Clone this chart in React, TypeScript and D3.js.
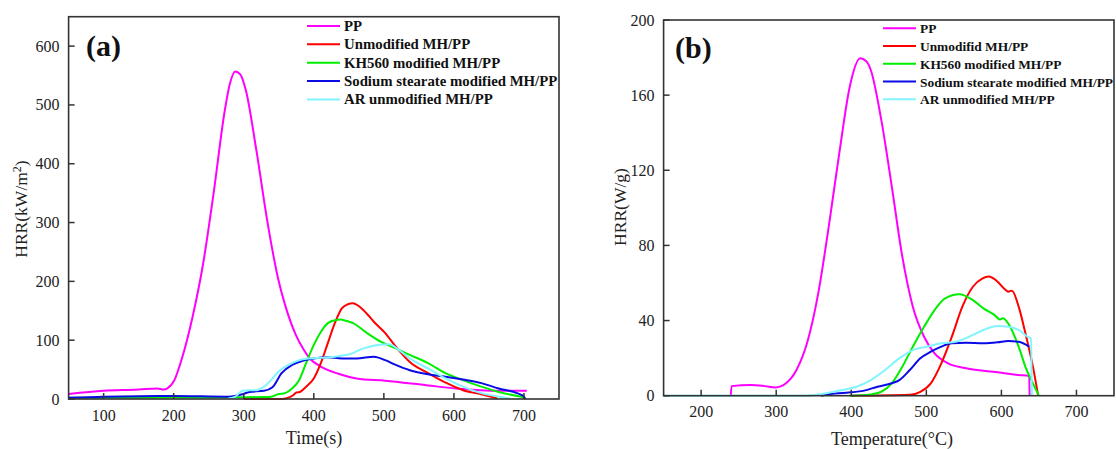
import React from "react";
import * as d3 from "d3";

// ---------- Panel (a): HRR vs time ----------
const xTicksA = [100, 200, 300, 400, 500, 600, 700];
const yTicksA = [0, 100, 200, 300, 400, 500, 600];

const ppA_x = [50, 100, 150, 176, 186, 191, 201, 211, 227, 242, 257, 273, 280, 288, 295, 303, 318, 334, 349, 359, 374, 385, 395, 410, 435, 461, 502, 563, 603, 664, 704];
const ppA_y = [8.5, 14, 16, 18, 16, 18, 32, 66, 140, 230, 350, 491, 535, 557, 552, 525, 423, 300, 205, 160, 110, 85, 68, 55, 43, 35, 31, 23, 18, 14, 14];

const redA_x = [300, 350, 360, 370, 375, 380, 389, 400, 410, 420, 430, 440, 448, 456, 463, 471, 486, 502, 517, 537, 563, 588, 613, 639, 662];
const redA_y = [0, 0, 1, 6, 11, 12, 21, 35, 61, 95, 129, 154, 161, 163, 159, 151, 131, 112, 89, 63, 44, 28, 15, 8, 1];

const greenA_x = [50, 100, 200, 300, 330, 339, 349, 359, 369, 379, 389, 400, 410, 420, 430, 438, 446, 456, 476, 496, 517, 537, 563, 588, 613, 639, 664, 700];
const greenA_y = [2, 2, 2.5, 3, 3.5, 4, 8, 10, 18, 32, 61, 92, 114, 129, 134, 135, 133, 129, 112, 97, 86, 75, 61, 44, 32, 21, 12, 3];

const blueA_x = [50, 100, 200, 278, 298, 308, 329, 341, 354, 369, 384, 400, 420, 440, 461, 486, 502, 517, 537, 563, 588, 613, 639, 664, 690, 700, 702];
const blueA_y = [2, 4, 5, 4, 8, 12, 14, 20, 44, 58, 65, 69, 71, 69, 69, 72, 66, 58, 49, 42, 38, 33, 27, 18, 10, 4, 0];

const cyanA_x = [278, 288, 298, 308, 318, 329, 339, 349, 364, 379, 395, 410, 430, 451, 471, 491, 507, 522, 537, 563, 588, 613, 639, 664, 680];
const cyanA_y = [1, 4, 14, 15, 15, 21, 32, 46, 58, 66, 69, 70, 72, 76, 86, 92, 93, 83, 69, 52, 35, 21, 10, 4, 1];

const legendA = ["PP", "Unmodified MH/PP", "KH560 modified MH/PP", "Sodium stearate modified MH/PP", "AR unmodified MH/PP"];

// ---------- Panel (b): HRR vs temperature ----------
const xTicksB = [200, 300, 400, 500, 600, 700];
const yTicksB = [0, 40, 80, 120, 160, 200];

const ppB_x = [239.5, 240.5, 266, 285, 299, 313, 327, 341, 356, 370, 384, 398, 412, 420, 426, 440, 454, 468, 482, 497, 511, 529, 553, 576, 600, 623, 637, 637.6];
const ppB_y = [0, 5.1, 5.7, 5.1, 4.4, 6.6, 13.7, 27.9, 54.5, 90, 129, 164.5, 179.6, 178, 173.4, 146.8, 111.3, 74, 47.4, 31.4, 22.5, 17.2, 14.6, 13.3, 12.2, 11, 10.5, 0];

const redB_x = [400, 478, 492, 506, 520, 534, 548, 562, 575, 583, 595, 605, 609, 614, 623, 632, 642, 649];
const redB_y = [0, 0.5, 2.1, 6.6, 17.2, 31.4, 47.4, 58, 62.5, 63.4, 60.7, 56.5, 55.4, 55.9, 47.4, 33.2, 15.4, 0];

const greenB_x = [398, 426, 440, 454, 468, 482, 497, 511, 525, 544, 562, 576, 591, 598, 602, 609, 623, 632, 642, 650];
const greenB_y = [0, 0.7, 2.1, 6.6, 15.4, 26.1, 36.7, 45.6, 51.8, 54, 50.9, 46.5, 42.9, 40.6, 41.2, 38.5, 26.1, 15.4, 6.6, 0];

const blueB_x = [360, 365, 393, 417, 435, 454, 464, 478, 492, 506, 520, 534, 553, 576, 595, 609, 623, 637];
const blueB_y = [0, 0.4, 1.6, 2.7, 4.8, 6.6, 8.3, 13.7, 19.9, 23.4, 26.1, 27.9, 28.2, 27.9, 28.4, 29.1, 28.7, 26.1];

const cyanB_x = [150, 340, 365, 388, 407, 426, 445, 464, 482, 501, 520, 539, 557, 576, 595, 609, 623, 637, 639.5, 640.5];
const cyanB_y = [0, 0, 1.2, 3, 4.8, 8.3, 13.7, 19.9, 24.3, 26.1, 27.9, 28.7, 31.4, 35, 37.1, 36.7, 35, 30.9, 30.5, 0];

const legendB = ["PP", "Unmodifid MH/PP", "KH560 modified MH/PP", "Sodium stearate modified MH/PP", "AR unmodified MH/PP"];

const colors = ["#ff00ff", "#ff0000", "#00ee00", "#0a0ae6", "#80f4ff"];

const FONT = "'Liberation Serif', 'Times New Roman', serif";

type Series = { x: number[]; y: number[] };

function zip(s: Series) {
  return s.x.map((v, i) => [v, s.y[i]] as [number, number]);
}

type PanelProps = {
  left: number; right: number; top: number; bottom: number;
  xDomain: [number, number]; yDomain: [number, number];
  xTicks: number[]; yTicks: number[];
  series: Series[]; legend: string[];
  legendX: number; legendY: number; legendGap: number; legendFont: number;
  tag: string; tagX: number; tagY: number;
  yLabel: React.ReactNode; yLabelX: number; yLabelY: number;
  xLabel: string; xLabelX: number; xLabelY: number;
  xTickLabelY: number;
};

function Panel(p: PanelProps) {
  const x = d3.scaleLinear().domain(p.xDomain).range([p.left, p.right]);
  const y = d3.scaleLinear().domain(p.yDomain).range([p.bottom, p.top]);
  const line = d3.line<[number, number]>().x(d => x(d[0])).y(d => y(d[1])).curve(d3.curveMonotoneX);
  const tickLen = 6;
  const axisColor = "#333";
  return (
    <g>
      {p.series.map((s, i) => (
        <path key={i} d={line(zip(s)) || ""} fill="none" stroke={colors[i]} strokeWidth={2} strokeLinejoin="round" />
      ))}
      <rect x={p.left} y={p.top} width={p.right - p.left} height={p.bottom - p.top} fill="none" stroke={axisColor} strokeWidth={1.6} />
      {p.xTicks.map(t => (
        <g key={"xt" + t}>
          <line x1={x(t)} x2={x(t)} y1={p.bottom} y2={p.bottom - tickLen} stroke={axisColor} strokeWidth={1.5} />
          <text x={x(t)} y={p.xTickLabelY} textAnchor="middle" fontSize={16} fontFamily={FONT} fill="#222">{t}</text>
        </g>
      ))}
      {p.yTicks.map(t => (
        <g key={"yt" + t}>
          <line x1={p.left} x2={p.left + tickLen} y1={y(t)} y2={y(t)} stroke={axisColor} strokeWidth={1.5} />
          <text x={p.left - 9} y={y(t) + 5.5} textAnchor="end" fontSize={16} fontFamily={FONT} fill="#222">{t}</text>
        </g>
      ))}
      {p.legend.map((name, i) => (
        <g key={"lg" + i}>
          <line x1={p.legendX} x2={p.legendX + 33} y1={p.legendY + i * p.legendGap} y2={p.legendY + i * p.legendGap} stroke={colors[i]} strokeWidth={2} />
          <text x={p.legendX + 37} y={p.legendY + i * p.legendGap + 5} fontSize={p.legendFont} fontWeight="bold" fontFamily={FONT} fill="#111">{name}</text>
        </g>
      ))}
      <text x={p.tagX} y={p.tagY} fontSize={30} fontWeight="bold" fontFamily={FONT} fill="#111">{p.tag}</text>
      <text transform={`translate(${p.yLabelX},${p.yLabelY}) rotate(-90)`} textAnchor="middle" fontSize={17.5} fontFamily={FONT} fill="#222">{p.yLabel}</text>
      <text x={p.xLabelX} y={p.xLabelY} textAnchor="middle" fontSize={18} fontFamily={FONT} fill="#222">{p.xLabel}</text>
    </g>
  );
}

export default function App() {
  const seriesA: Series[] = [
    { x: ppA_x, y: ppA_y },
    { x: redA_x, y: redA_y },
    { x: greenA_x, y: greenA_y },
    { x: blueA_x, y: blueA_y },
    { x: cyanA_x, y: cyanA_y },
  ];
  const seriesB: Series[] = [
    { x: ppB_x, y: ppB_y },
    { x: redB_x, y: redB_y },
    { x: greenB_x, y: greenB_y },
    { x: blueB_x, y: blueB_y },
    { x: cyanB_x, y: cyanB_y },
  ];
  return (
    <svg width={1116} height={449} style={{ position: "absolute", left: 0, top: 0, background: "#fff" }}>
      <rect x={0} y={0} width={1116} height={449} fill="#fff" />
      <Panel
        left={68.6} right={559} top={16.7} bottom={399}
        xDomain={[50, 750]} yDomain={[0, 650]}
        xTicks={xTicksA} yTicks={yTicksA}
        series={seriesA} legend={legendA}
        legendX={307} legendY={26} legendGap={18.35} legendFont={14.8}
        tag="(a)" tagX={86} tagY={56}
        yLabel={<>HRR(kW/m<tspan dy={-6} fontSize={12}>2</tspan><tspan dy={6}>)</tspan></>}
        yLabelX={27} yLabelY={209}
        xLabel="Time(s)" xLabelX={314} xLabelY={444}
        xTickLabelY={421}
      />
      <Panel
        left={663.6} right={1114} top={20} bottom={395.7}
        xDomain={[150, 750]} yDomain={[0, 200]}
        xTicks={xTicksB} yTicks={yTicksB}
        series={seriesB} legend={legendB}
        legendX={883} legendY={28.3} legendGap={17.75} legendFont={13.4}
        tag="(b)" tagX={675} tagY={58}
        yLabel="HRR(W/g)"
        yLabelX={626} yLabelY={207}
        xLabel="Temperature(°C)" xLabelX={892} xLabelY={445}
        xTickLabelY={417}
      />
    </svg>
  );
}
